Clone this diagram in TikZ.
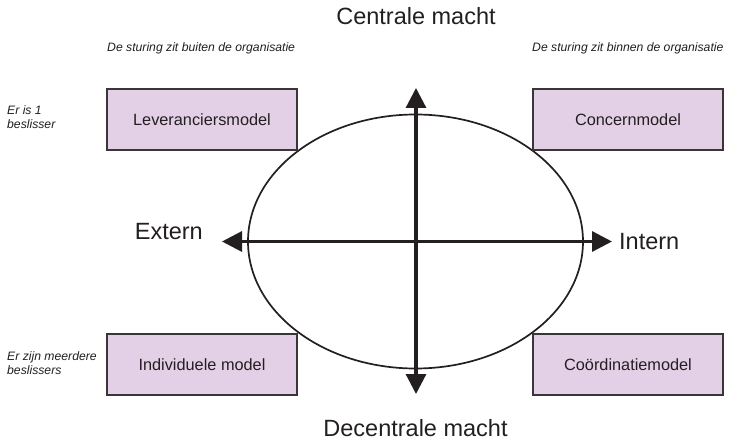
\documentclass[tikz,border=0pt]{standalone}
\usepackage{fontspec}
\setmainfont{Liberation Sans}
\usetikzlibrary{arrows.meta}
\definecolor{ink}{RGB}{35,31,32}
\definecolor{boxline}{RGB}{58,54,56}
\definecolor{lila}{RGB}{228,208,230}
\begin{document}
\begin{tikzpicture}[x=1pt,y=-1pt,text=ink,
  model/.style={draw=boxline,line width=1.6pt,fill=lila,minimum width=190pt,minimum height=61pt,
    font=\fontsize{16.3}{19}\selectfont},
  side/.style={inner sep=0pt,align=left,font=\fontsize{12.2}{14.5}\selectfont\itshape},
  big/.style={inner sep=0pt,font=\fontsize{23.5}{28}\selectfont},
  axis/.style={line width=3.2pt,draw=ink,{Triangle[length=20pt,width=20pt]}-{Triangle[length=20pt,width=20pt]}}]
\useasboundingbox (0,0) rectangle (734,441);
\draw[ink,line width=1.7pt] (415.5,241.5) ellipse [x radius=167.5pt,y radius=127pt];
\node[model] (lev) at (202,119.5) {Leveranciersmodel};
\node[model] (con) at (628,119.5) {Concernmodel};
\node[model] (ind) at (202,364.5) {Individuele model};
\node[model] (coo) at (628,364.5) {Coördinatiemodel};
\coordinate (top) at (416,88);
\coordinate (bot) at (416,394);
\coordinate (west) at (222,241.5);
\coordinate (east) at (612,241.5);
\draw[axis] (bot) -- (top);
\draw[axis] (west) -- (east);
\node[big,anchor=base] (cm) at (416,25) {Centrale macht};
\node[big,anchor=base] (dm) at (415.5,436.5) {Decentrale macht};
\node[big,anchor=base east] (ext) at (203,240) {Extern};
\node[big,anchor=base west] (int) at (619,249) {Intern};
\node[side,anchor=base west] (buiten) at (107,52) {De sturing zit buiten de organisatie};
\node[side,anchor=base west] (binnen) at (532,52) {De sturing zit binnen de organisatie};
\node[side,anchor=north west] (een) at (7,105) {Er is 1\\beslisser};
\node[side,anchor=north west] (meer) at (7,351) {Er zijn meerdere\\beslissers};
\end{tikzpicture}
\end{document}
